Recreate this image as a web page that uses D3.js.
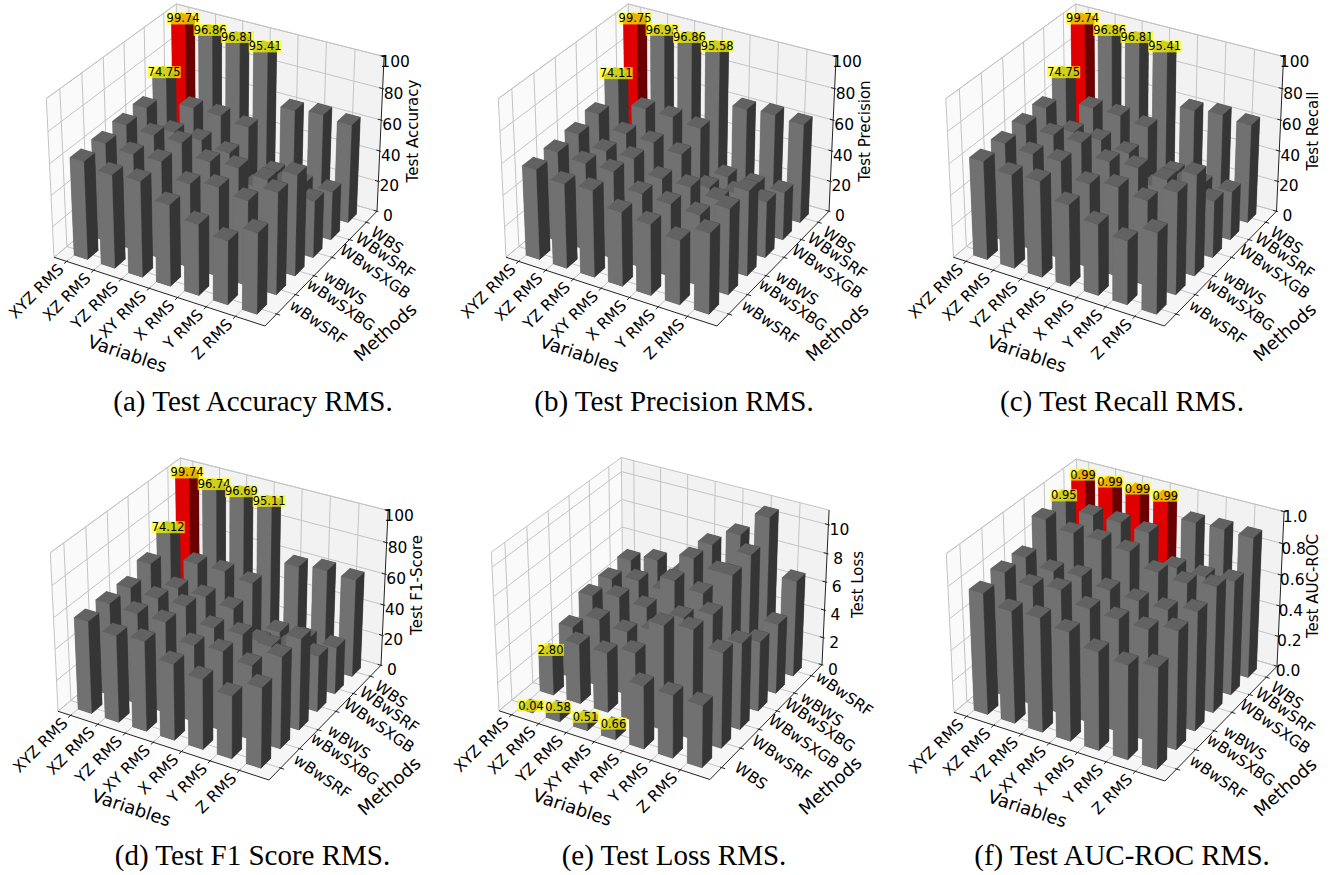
<!DOCTYPE html>
<html><head><meta charset="utf-8">
<style>html,body{margin:0;background:#fff}svg{display:block}text{font-family:"DejaVu Sans",sans-serif;fill:#000}</style>
<script src="https://cdn.jsdelivr.net/npm/d3@7/dist/d3.min.js"></script></head><body>
<script>
const variables = ["XYZ RMS","XZ RMS","YZ RMS","XY RMS","X RMS","Y RMS","Z RMS"];
const methodsMain = ["wBwSRF","wBwSXBG","wBWS","WBwSXGB","WBwSRF","WBS"];
const methodsLoss = ["WBS","WBwSRF","WBwSXGB","WBwSXBG","wBWS","wBwSRF"];
const ticksPct = [0,20,40,60,80,100];
const ticksLoss = [0,2,4,6,8,10];
const ticksAuc = [0,0.2,0.4,0.6,0.8,1.0];
const accuracy = [
 [62.7,59.5,60.8,51.6,45,40.3,51],[63.4,61.7,62.3,53.5,56.8,53.8,64.3],[64.6,63.2,63.4,56.6,57.9,55.8,64.1],
 [65.3,54.7,54.5,51.3,35,42,36.5],[74.75,60.1,60,57.5,33,31,31.3],[99.74,96.86,96.81,95.41,62.9,65,63.4]];
const precision = [
 [57.5,53.9,55.1,47,45,40.7,50.8],[57.9,55.9,56,47.4,46.3,44.9,54.3],[58.8,53,53.4,45.8,45.9,43.2,54.1],
 [61.4,53.7,53,50.6,34.5,36,36],[74.11,59.5,59,56.8,30.5,30.3,30.9],[99.75,96.93,96.86,95.58,63.6,65,63.7]];
const recall = [
 [62.7,59.5,60.8,51.6,45,40.3,51],[63.4,61.7,62.3,53.5,56.8,53.8,64.3],[64.6,63.2,63.4,56.6,57.9,55.8,64.1],
 [65.3,54.7,54.5,51.3,35,42,36.5],[74.75,60.1,60,57.5,33,31,31.3],[99.74,96.86,96.81,95.41,62.9,65,63.4]];
const f1score = [
 [58.9,55.3,57,48.4,44.4,39.7,50.4],[59.4,58.3,58.1,48.8,50.3,47,57.9],[58.8,57.3,57.4,48.9,49.9,47.8,57.8],
 [64,53.2,53,50.4,34.5,36,35.9],[74.12,58.8,58.8,56.2,29.8,30.3,30.2],[99.74,96.74,96.69,95.11,61.6,63.9,62.8]];
const loss = [
 [0.04,0.58,0.51,0.66,4.39,4.37,4.3],[2.80,4.23,4.2,4.81,7.29,7.58,6.62],[3.65,4.78,4.48,5.12,6.61,7.41,6.03],
 [4.74,5.2,5.02,7.46,7.13,8.91,4.91],[4.8,5.24,5.07,7.88,7.45,9.18,4.93],[5.04,5.57,5.14,7.75,8.96,10.68,6.78]];
const auc = [
 [.77,.71,.722,.688,.62,.593,.633],[.794,.76,.787,.723,.708,.699,.744],[.788,.75,.766,.733,.716,.711,.752],
 [.928,.888,.89,.87,.79,.771,.80],[.95,.904,.905,.888,.715,.709,.73],[.99,.99,.99,.99,.90,.905,.899]];
const labelledMain = [[4,0],[5,0],[5,1],[5,2],[5,3]];
const labelledLoss = [[1,0],[0,0],[0,1],[0,2],[0,3]];

const panels = [
 {values:accuracy,methods:methodsMain,ticks:ticksPct,zmax:100,fmt:"d",labelled:labelledMain,zlabel:"Test Accuracy",caption:"(a) Test Accuracy RMS.",dx:0,dy:0,cx:253,cy:411,red:[[5,0]]},
 {values:precision,methods:methodsMain,ticks:ticksPct,zmax:100,fmt:"d",labelled:labelledMain,zlabel:"Test Precision",caption:"(b) Test Precision RMS.",dx:452,dy:0,cx:674,cy:411,red:[[5,0]]},
 {values:recall,methods:methodsMain,ticks:ticksPct,zmax:100,fmt:"d",labelled:labelledMain,zlabel:"Test Recall",caption:"(c) Test Recall RMS.",dx:899.5,dy:0,cx:1122,cy:411,red:[[5,0]]},
 {values:f1score,methods:methodsMain,ticks:ticksPct,zmax:100,fmt:"d",labelled:labelledMain,zlabel:"Test F1-Score",caption:"(d) Test F1 Score RMS.",dx:4,dy:454,cx:252.5,cy:865,red:[[5,0]]},
 {values:loss,methods:methodsLoss,ticks:ticksLoss,zmax:11,fmt:"d",labelled:labelledLoss,zlabel:"Test Loss",caption:"(e) Test Loss RMS.",dx:445,dy:453.5,cx:674,cy:865,red:[]},
 {values:auc,methods:methodsMain,ticks:ticksAuc,zmax:1,fmt:".1f",labelled:labelledMain,zlabel:"Test AUC-ROC",caption:"(f) Test AUC-ROC RMS.",dx:900,dy:455,cx:1122,cy:865,red:[[5,0],[5,1],[5,2],[5,3]]}
];

const W=1339,H=875;
const svg=d3.select("body").append("svg").attr("width",W).attr("height",H);
const xlim=[-0.47,7.0], ylim=[-0.35,5.9], barW=0.5;
const nrm=Math.hypot(4,4,3), k=1.8294640721620434*25/24/nrm;
const B=[4*k,4*k,3*k];
const el=30*Math.PI/180, az=-60*Math.PI/180, dist=10;
const R=B.map(b=>b/2);
const wv=[Math.cos(el)*Math.cos(az),Math.cos(el)*Math.sin(az),Math.sin(el)];
const E=R.map((r,i)=>r+dist*wv[i]);
const cross=(a,b)=>[a[1]*b[2]-a[2]*b[1],a[2]*b[0]-a[0]*b[2],a[0]*b[1]-a[1]*b[0]];
const dot=(a,b)=>a[0]*b[0]+a[1]*b[1]+a[2]*b[2];
const uv0=cross([0,0,1],wv), un=Math.hypot(...uv0), uv=uv0.map(d=>d/un), vv=cross(wv,uv);
const sxS=d3.scaleLinear().range([0,B[0]]).domain(xlim);
const syS=d3.scaleLinear().range([0,B[1]]).domain(ylim);
function view(P){const d=[P[0]-E[0],P[1]-E[1],P[2]-E[2]];const zv=dot(wv,d);return [dot(uv,d)/-zv,dot(vv,d)/-zv,-zv];}
const lightv=[Math.cos(225*Math.PI/180)*Math.cos(19.4712*Math.PI/180),Math.sin(225*Math.PI/180)*Math.cos(19.4712*Math.PI/180),Math.sin(19.4712*Math.PI/180)];
const shade=n=>0.3+0.7*(dot(n,lightv)+1)/2;

const pxAnchor=(()=>{const P=(x,y,z)=>view([sxS(x),syS(y),z*B[2]]);
 return {x:d3.scaleLinear().domain([P(xlim[0],ylim[0],0)[0],P(xlim[1],ylim[1],0)[0]]).range([54,377]),
         y:d3.scaleLinear().domain([P(xlim[1],ylim[0],0)[1],P(xlim[0],ylim[1],1)[1]]).range([326,4])};})();

panels.forEach(p=>{
 const g=svg.append("g").attr("transform",`translate(${p.dx},${p.dy})`);
 const zS=d3.scaleLinear().domain([0,p.zmax]).range([0,B[2]]);
 const v3=(x,y,z)=>view([sxS(x),syS(y),zS(z)]);
 const pr=(x,y,z)=>{const v=v3(x,y,z);return [pxAnchor.x(v[0]),pxAnchor.y(v[1])];};
 const line=d3.line();
 const [x0,x1]=xlim,[y0,y1]=ylim,z1=p.zmax;
 const poly=(pts,fill)=>g.append("path").attr("d",line(pts)+"Z").attr("fill",fill).attr("stroke","none");
 poly([pr(x0,y0,0),pr(x0,y1,0),pr(x0,y1,z1),pr(x0,y0,z1)],"#fafafa");
 poly([pr(x0,y1,0),pr(x1,y1,0),pr(x1,y1,z1),pr(x0,y1,z1)],"#f2f2f2");
 poly([pr(x0,y0,0),pr(x1,y0,0),pr(x1,y1,0),pr(x0,y1,0)],"#f6f6f6");
 const seg=(pts,c,w)=>g.append("path").attr("d",line(pts)).attr("fill","none").attr("stroke",c).attr("stroke-width",w);
 const gc="#c4c4c4";
 seg([pr(x0,y0,0),pr(x0,y0,z1),pr(x0,y1,z1),pr(x1,y1,z1)],gc,1);
 seg([pr(x0,y1,0),pr(x0,y1,z1)],gc,1);
 seg([pr(x0,y0,0),pr(x0,y1,0),pr(x1,y1,0)],gc,1);
 const xt=variables.map((d,i)=>i), yt=p.methods.map((d,j)=>j+0.25);
 xt.forEach(x=>seg([pr(x,y0,0),pr(x,y1,0),pr(x,y1,z1)],gc,1));
 yt.forEach(y=>seg([pr(x1,y,0),pr(x0,y,0),pr(x0,y,z1)],gc,1));
 p.ticks.forEach(z=>seg([pr(x0,y0,z),pr(x0,y1,z),pr(x1,y1,z)],gc,1));
 seg([pr(x0,y0,0),pr(x1,y0,0),pr(x1,y1,0),pr(x1,y1,z1)],"#222",1);
 xt.forEach(x=>seg([pr(x,y0-0.12,0),pr(x,y0+0.05,0)],"#222",1));
 yt.forEach(y=>seg([pr(x1+0.12,y,0),pr(x1-0.05,y,0)],"#222",1));
 p.ticks.forEach(z=>seg([pr(x1+0.05,y1,z),pr(x1-0.12,y1,z)],"#222",1));
 const faces=[];
 const redSet=new Set(p.red.map(d=>d.join()));
 p.values.forEach((row,j)=>row.forEach((v,i)=>{
  const a=i,b=i+barW,c=j,d=j+barW;
  const base=redSet.has(j+","+i)?[255,0,0]:[128,128,128];
  [[[a,c,0],[b,c,0],[b,d,0],[a,d,0],[0,0,-1]],
   [[a,c,v],[b,c,v],[b,d,v],[a,d,v],[0,0,1]],
   [[a,c,0],[b,c,0],[b,c,v],[a,c,v],[0,-1,0]],
   [[a,d,0],[b,d,0],[b,d,v],[a,d,v],[0,1,0]],
   [[a,c,0],[a,d,0],[a,d,v],[a,c,v],[-1,0,0]],
   [[b,c,0],[b,d,0],[b,d,v],[b,c,v],[1,0,0]]].forEach(f=>{
    const pts=f.slice(0,4), n=f[4], s=shade(n);
    faces.push({pts,depth:d3.mean(pts,q=>v3(...q)[2]),fill:d3.rgb(base[0]*s,base[1]*s,base[2]*s).formatHex()});
   });
 }));
 faces.sort((a,b)=>d3.descending(a.depth,b.depth));
 g.append("g").selectAll("path").data(faces).join("path")
  .attr("d",f=>line(f.pts.map(q=>pr(...q)))+"Z").attr("fill",f=>f.fill).attr("stroke",f=>f.fill).attr("stroke-width",0.3);
 variables.forEach((t,i)=>{const q=pr(i,y0,0);
  g.append("text").attr("transform",`translate(${q[0]-2},${q[1]+9}) rotate(-45)`).attr("text-anchor","end").attr("font-size",15.5).text(t);});
 p.methods.forEach((t,j)=>{const q=pr(x1,yt[j],0), a=35*Math.PI/180;
  const tx=g.append("text").attr("text-anchor","middle").attr("font-size",15.5).text(t);
  const w=tx.node().getComputedTextLength(), bw=w*Math.cos(a)+11*Math.sin(a);
  const cx=q[0]+11.7-1.7*j+bw/2, cy=q[1]+8.3+1.95*j;
  tx.attr("transform",`translate(${cx},${cy}) rotate(35)`).attr("dy","0.35em");});
 const zf=d3.format(p.fmt);
 p.ticks.forEach(z=>{const q=pr(x1,y1,z);
  g.append("text").attr("x",q[0]+11).attr("y",q[1]+10).attr("text-anchor","middle").attr("font-size",15.5).text(zf(z));});
 g.append("text").attr("transform","translate(418,131) rotate(-90)").attr("text-anchor","middle").attr("font-size",15).text(p.zlabel);
 g.append("text").attr("transform","translate(127,355) rotate(18.4)").attr("text-anchor","middle").attr("dominant-baseline","middle").attr("font-size",18).text("Variables");
 g.append("text").attr("transform","translate(386,333) rotate(-42)").attr("text-anchor","middle").attr("dominant-baseline","middle").attr("font-size",18).text("Methods");
 const fm=d3.format(".2f");
 p.labelled.forEach(([j,i])=>{
  const v=p.values[j][i], q=pr(i+.25,j+.25,v), t=fm(v), w=t.length*6.4+1;
  g.append("rect").attr("x",q[0]-w/2).attr("y",q[1]-6).attr("width",w).attr("height",12).attr("fill","#ffff00").attr("fill-opacity",0.7);
  g.append("text").attr("x",q[0]).attr("y",q[1]+4).attr("text-anchor","middle").attr("font-size",11.5).text(t);
 });
 svg.append("text").attr("x",p.cx).attr("y",p.cy).attr("text-anchor","middle").style("font-family","'Liberation Serif',serif").attr("font-size",29).text(p.caption);
});
</script></body></html>
